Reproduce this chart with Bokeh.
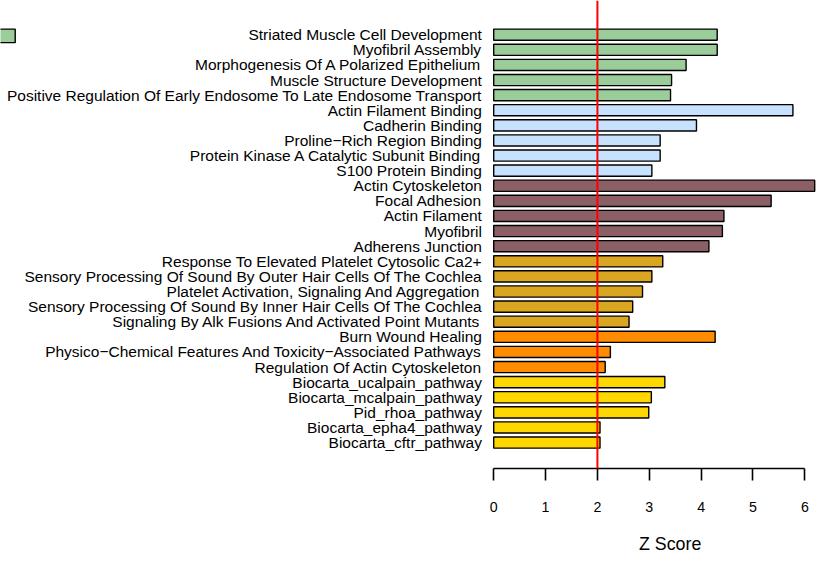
from bokeh.plotting import figure
from bokeh.models import Range1d, LinearAxis, FixedTicker, Span, ColumnDataSource, Title
from bokeh.core.properties import value
from bokeh.embed import file_html
from bokeh.resources import INLINE

terms = [
    "Striated Muscle Cell Development",
    "Myofibril Assembly",
    "Morphogenesis Of A Polarized Epithelium",
    "Muscle Structure Development",
    "Positive Regulation Of Early Endosome To Late Endosome Transport",
    "Actin Filament Binding",
    "Cadherin Binding",
    "Proline\u2212Rich Region Binding",
    "Protein Kinase A Catalytic Subunit Binding",
    "S100 Protein Binding",
    "Actin Cytoskeleton",
    "Focal Adhesion",
    "Actin Filament",
    "Myofibril",
    "Adherens Junction",
    "Response To Elevated Platelet Cytosolic Ca2+",
    "Sensory Processing Of Sound By Outer Hair Cells Of The Cochlea",
    "Platelet Activation, Signaling And Aggregation",
    "Sensory Processing Of Sound By Inner Hair Cells Of The Cochlea",
    "Signaling By Alk Fusions And Activated Point Mutants",
    "Burn Wound Healing",
    "Physico\u2212Chemical Features And Toxicity\u2212Associated Pathways",
    "Regulation Of Actin Cytoskeleton",
    "Biocarta_ucalpain_pathway",
    "Biocarta_mcalpain_pathway",
    "Pid_rhoa_pathway",
    "Biocarta_epha4_pathway",
    "Biocarta_cftr_pathway",
]
zscores = [4.31, 4.31, 3.71, 3.43, 3.41,
           5.77, 3.91, 3.21, 3.21, 3.05,
           6.19, 5.35, 4.44, 4.41, 4.15,
           3.26, 3.05, 2.87, 2.68, 2.61,
           4.27, 2.25, 2.15,
           3.30, 3.04, 2.99, 2.05, 2.05]
groups = ["GO_BP"] * 5 + ["GO_MF"] * 5 + ["GO_CC"] * 5 + ["Reactome"] * 5 + ["WikiPathways"] * 3 + ["Canonical"] * 5
group_colors = {
    "GO_BP": "#9BCD9B",
    "GO_MF": "#C6E2FF",
    "GO_CC": "#8B5F65",
    "Reactome": "#DAA520",
    "WikiPathways": "#FF8C00",
    "Canonical": "#FFD700",
}
x_ticks = [0, 1, 2, 3, 4, 5, 6]
threshold = 2
x_label = "Z Score"

# --- layout (reference geometry 838x586 scaled into an 822x570 canvas) ---
REF_W, REF_H = 838, 586
W, H = 822, 570
SX, SY = W / REF_W, H / REF_H
S = (SX + SY) / 2
PX0, PX6 = 502.8, 820.0            # reference pixel of x=0 and x=6
SCALE = (PX6 - PX0) / 6.0
C0, STEP = 35.3, 15.59              # first bar centre and spacing (ref px)
FRAME_BOTTOM = 483                  # ref px of the axis line


def px2x(px):
    return (px - PX0) / SCALE


def px2y(py):
    return (py - C0) / STEP


FONT = "Liberation Sans"
FS_NAMES = "%.1fpx" % (15.9 * S)
FS_TICKS = "%.1fpx" % (14.5 * S)
FS_TITLE = "%.1fpx" % (18.2 * S)

p = figure(width=W, height=H, output_backend="svg", toolbar_location=None,
           x_range=Range1d(px2x(0), px2x(REF_W)),
           y_range=Range1d(px2y(FRAME_BOTTOM), px2y(0)),
           x_axis_type=None, y_axis_type=None,
           min_border_left=0, min_border_right=0, min_border_top=0,
           min_border_bottom=int(round(H - FRAME_BOTTOM * SY)))
p.outline_line_color = None
p.grid.visible = False
p.background_fill_color = "white"
p.border_fill_color = "white"

idx = list(range(len(terms)))
src = ColumnDataSource(dict(
    y=idx, right=zscores, term=terms,
    color=[group_colors[g] for g in groups],
))
p.hbar(y="y", left=0, right="right", height=0.74, source=src,
       fill_color="color", line_color="black", line_width=1.4)

p.text(x=0, y="y", text="term", source=src, x_offset=-12 * SX,
       text_align="right", text_baseline="middle",
       text_font=value(FONT), text_font_size=FS_NAMES, text_color="black")

p.add_layout(Span(location=threshold, dimension="height",
                  line_color="#FF0000", line_width=2))

# partially visible legend key (cut off at the left edge)
p.quad(left=[px2x(-20)], right=[px2x(15)], top=[px2y(29.5)], bottom=[px2y(43.5)],
       fill_color=group_colors["GO_BP"], line_color="black", line_width=1.4)

ax = LinearAxis(ticker=FixedTicker(ticks=x_ticks), bounds=(0, 6))
ax.axis_line_width = 1.6
ax.major_tick_line_width = 1.6
ax.major_tick_in = 0
ax.major_tick_out = int(round(12 * SY))
ax.minor_tick_line_color = None
ax.major_label_text_font = FONT
ax.major_label_text_font_size = FS_TICKS
ax.major_label_text_color = "black"
ax.major_label_standoff = 21
p.add_layout(ax, "below")

# x-axis title, centred where the reference puts it
title_w = 64 * SX
xt = Title(text=x_label, align="left", offset=683 * SX - title_w / 2, standoff=34,
           text_font=FONT, text_font_size=FS_TITLE, text_font_style="normal",
           text_color="black")
p.add_layout(xt, "below")

open("out.html", "w").write(file_html(p, INLINE))
